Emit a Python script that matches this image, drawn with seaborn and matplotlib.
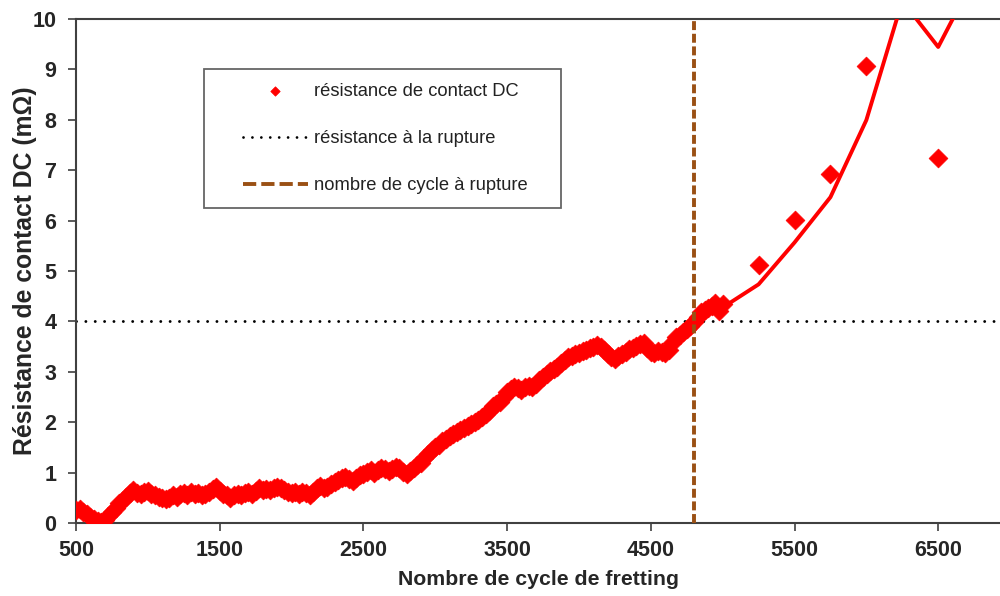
import matplotlib
matplotlib.use("Agg")
import matplotlib.pyplot as plt
from matplotlib.lines import Line2D
from matplotlib.legend_handler import HandlerLine2D, HandlerPathCollection
import seaborn as sns
import pandas as pd
import numpy as np

# dense measurement, one reading every 25 fretting cycles (500 -> 5000)
dense_cycles = np.arange(500, 5001, 25)
dense_res = [
    0.25, 0.27, 0.22, 0.18, 0.12, 0.08, 0.04, 0.02, 0.05, 0.14,
    0.22, 0.30, 0.40, 0.46, 0.52, 0.60, 0.66, 0.60, 0.58, 0.62,
    0.64, 0.58, 0.55, 0.52, 0.50, 0.47, 0.50, 0.55, 0.52, 0.57,
    0.60, 0.56, 0.62, 0.58, 0.60, 0.55, 0.58, 0.62, 0.68, 0.72,
    0.64, 0.58, 0.55, 0.50, 0.56, 0.58, 0.55, 0.60, 0.62, 0.58,
    0.64, 0.70, 0.66, 0.68, 0.65, 0.70, 0.72, 0.70, 0.66, 0.62,
    0.60, 0.62, 0.58, 0.62, 0.60, 0.56, 0.62, 0.70, 0.74, 0.70,
    0.72, 0.78, 0.82, 0.85, 0.90, 0.92, 0.88, 0.84, 0.90, 0.95,
    0.98, 1.02, 1.05, 1.00, 1.06, 1.10, 1.08, 1.04, 1.08, 1.12,
    1.10, 1.02, 0.98, 1.04, 1.10, 1.16, 1.20, 1.28, 1.36, 1.44,
    1.50, 1.55, 1.62, 1.66, 1.72, 1.76, 1.80, 1.84, 1.88, 1.92,
    1.96, 2.00, 2.04, 2.10, 2.16, 2.22, 2.32, 2.36, 2.40, 2.50,
    2.60, 2.66, 2.70, 2.68, 2.64, 2.70, 2.72, 2.70, 2.76, 2.84,
    2.90, 2.96, 3.02, 3.06, 3.10, 3.18, 3.24, 3.30, 3.32, 3.36,
    3.38, 3.42, 3.44, 3.48, 3.50, 3.54, 3.50, 3.44, 3.36, 3.30,
    3.26, 3.32, 3.36, 3.40, 3.46, 3.48, 3.52, 3.56, 3.58, 3.48,
    3.40, 3.38, 3.42, 3.40, 3.38, 3.44, 3.58, 3.70, 3.74, 3.78,
    3.84, 3.90, 3.98, 4.08, 4.18, 4.22, 4.26, 4.30, 4.36, 4.20,
    4.35,
]

# sparse readings after rupture (some are above the 10 mOhm axis limit)
late_cycles = [5250, 5500, 5750, 6000, 6250, 6500, 6750]
late_res = [5.12, 6.01, 6.92, 9.07, 11.65, 7.24, 14.4]

rupture_res = 4.0      # mOhm
rupture_cycle = 4800   # cycles

x_ticks = [500, 1500, 2500, 3500, 4500, 5500, 6500]
y_ticks = list(range(0, 11))

df = pd.DataFrame({
    "cycles": np.concatenate([dense_cycles, late_cycles]),
    "res": np.concatenate([dense_res, late_res]),
})
# Excel style moving average trendline, period 2
df["trend"] = df["res"].rolling(2).mean()

sns.set_style("ticks")
plt.rcParams["font.family"] = ["Liberation Sans", "DejaVu Sans"]

fig = plt.figure(figsize=(10, 5.96), dpi=100)
ax = fig.add_axes([0.076, 0.1225, 0.924, 0.8456])

red = "#ff0000"
brown = "#9a5014"
dot_style = (0, (0.01, 3.2))

sns.lineplot(data=df.dropna(), x="cycles", y="trend", estimator=None, sort=False,
             color=red, lw=2.8, ax=ax, zorder=3)
pts = sns.scatterplot(data=df, x="cycles", y="res", marker="D", s=92, color=red,
                      edgecolor=red, linewidth=0.5, ax=ax, zorder=4,
                      label="résistance de contact DC")

ax.axhline(rupture_res, color="black", lw=2.1, linestyle=dot_style,
           dash_capstyle="round", zorder=2)
ax.axvline(rupture_cycle, color=brown, lw=2.8, linestyle=(0, (2.3, 0.95)), zorder=5)

ax.set_xlim(500, 6930)
ax.set_ylim(0, 10)
ax.set_xticks(x_ticks)
ax.set_yticks(y_ticks)

for s in ["left", "bottom", "top"]:
    ax.spines[s].set_color("#404040")
    ax.spines[s].set_linewidth(1.5)
ax.spines["right"].set_visible(False)
ax.tick_params(axis="both", length=6, width=1.2, color="#404040", direction="out",
               labelsize=15.5)
ax.tick_params(axis="y", pad=8)
ax.tick_params(axis="x", pad=6)
for lab in ax.get_xticklabels() + ax.get_yticklabels():
    lab.set_fontweight("bold")

ax.set_xlabel("Nombre de cycle de fretting", fontsize=15.3, fontweight="bold", labelpad=7)
ax.set_ylabel("Résistance de contact DC (mΩ)", fontsize=17.8, fontweight="bold", labelpad=-3)

handles = [
    pts.collections[0],
    Line2D([], [], color="black", lw=2.0, linestyle=dot_style, dash_capstyle="round"),
    Line2D([], [], color=brown, lw=2.8, linestyle=(0, (3.4, 1.3))),
]
labels = ["résistance de contact DC", "résistance à la rupture", "nombre de cycle à rupture"]
leg = ax.legend(handles, labels, loc="upper left", mode="expand",
                bbox_to_anchor=(204 / 1000, 1 - 210 / 596, 357 / 1000, 141 / 596),
                bbox_transform=fig.transFigure,
                borderaxespad=0, fontsize=13.2, frameon=True, fancybox=False,
                borderpad=0.75, labelspacing=1.65, handlelength=4.9, handletextpad=0.35,
                markerscale=0.5,
                handler_map={
                    Line2D: HandlerLine2D(xpad=1.35),
                    type(pts.collections[0]): HandlerPathCollection(xpad=1.35, numpoints=1),
                })
leg.get_frame().set_edgecolor("#404040")
leg.get_frame().set_linewidth(1.3)
for t in leg.get_texts():
    t.set_color("#222222")

fig.savefig("out.png", dpi=100)
